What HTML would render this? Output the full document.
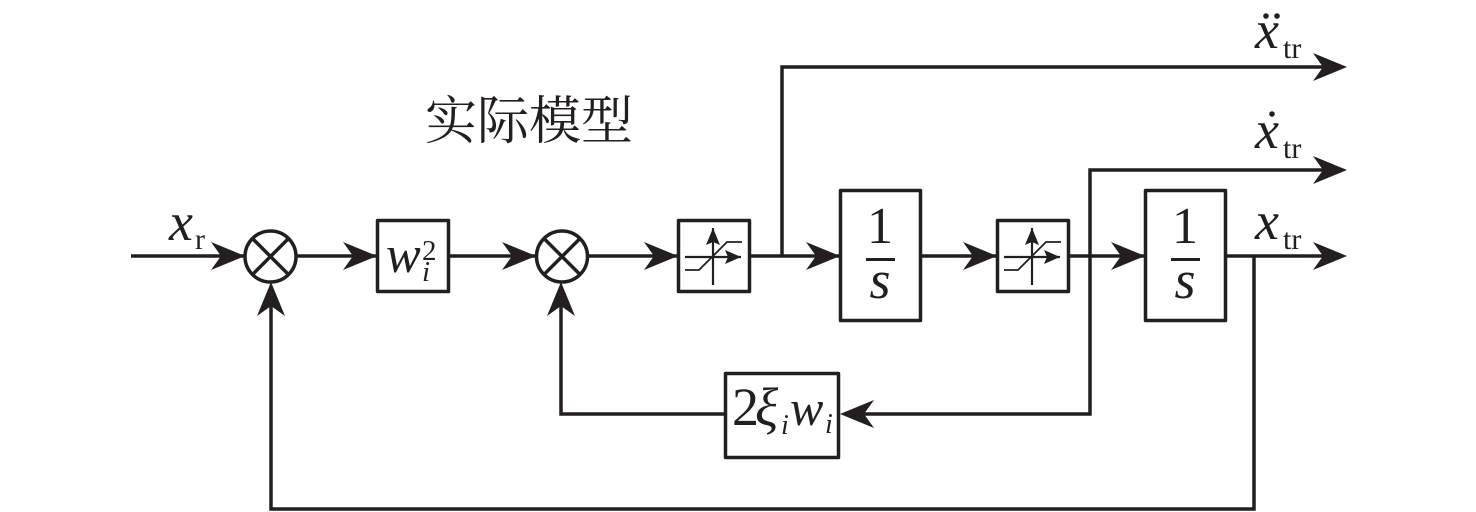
<!DOCTYPE html>
<html>
<head>
<meta charset="utf-8">
<style>
html,body{margin:0;padding:0;background:#fff;width:1476px;height:512px;overflow:hidden}
svg{display:block}
text{fill:#231f20;font-family:"Liberation Serif","Noto Serif CJK SC",serif}
.i{font-style:italic}
</style>
</head>
<body>
<svg width="1476" height="512" viewBox="0 0 1476 512" xmlns="http://www.w3.org/2000/svg">
<defs>
<path id="a" d="M0 0 L-34 -14 L-24 0 L-34 14 Z" fill="#231f20"/>
<g id="sat">
<rect x="-35.500" y="-35.500" width="71" height="71" fill="#fff" stroke="#231f20" stroke-width="3.500" stroke-linejoin="round"/>
<path d="M-29 1 H27 M-1 -28 V29" stroke="#231f20" stroke-width="2.200" fill="none"/>
<path d="M-29 14 H-15 L13 -14 H28" stroke="#231f20" stroke-width="1.800" fill="none"/>
<path d="M-1 -28 L-8 -11 L-1 -14 L6 -11 Z" fill="#231f20"/>
<path d="M27 1 L11 -6 L14 1 L11 8 Z" fill="#231f20"/>
</g>
</defs>
<g stroke="#231f20" stroke-width="3.500" fill="none">
<path d="M131 256 H245 M297 256 H377 M449 256 H535 M588 256 H678 M750 256 H840 M920 256 H997 M1069 256 H1145 M1225 256 H1330"/>
<path d="M782 256 V67 H1330"/>
<path d="M1090 256 V170 H1330 M1090 256 V414 H860"/>
<path d="M725 414 H561 V300"/>
<path d="M1254 256 V509 H271 V300"/>
<circle cx="270.500" cy="256.500" r="25.500"/>
<path d="M252.500 238.500 L288.500 274.500 M288.500 238.500 L252.500 274.500"/>
<circle cx="562" cy="256.500" r="25.500"/>
<path d="M544 238.500 L580 274.500 M580 238.500 L544 274.500"/>
<g stroke-linejoin="round">
<rect x="377.500" y="220.500" width="71" height="71"/>
<rect x="840.500" y="190.500" width="80" height="130"/>
<rect x="1145.500" y="190.500" width="80" height="130"/>
<rect x="725.500" y="373.500" width="113" height="84"/>
</g>
<path d="M866 259.500 H895 M1171 259.500 H1200" stroke-width="3"/>
</g>
<use href="#sat" x="714" y="256"/>
<use href="#sat" x="1033" y="256"/>
<use href="#a" transform="translate(245,256)"/>
<use href="#a" transform="translate(377,256)"/>
<use href="#a" transform="translate(536,256)"/>
<use href="#a" transform="translate(678,256)"/>
<use href="#a" transform="translate(840,256)"/>
<use href="#a" transform="translate(997,256)"/>
<use href="#a" transform="translate(1145,256)"/>
<use href="#a" transform="translate(1347,256)"/>
<use href="#a" transform="translate(1347,170)"/>
<use href="#a" transform="translate(1347,67)"/>
<use href="#a" transform="translate(840,414) rotate(180)"/>
<use href="#a" transform="translate(561,282) rotate(-90)"/>
<use href="#a" transform="translate(271,282) rotate(-90)"/>

<text x="425" y="139" font-size="52" style='font-family:"Noto Serif CJK SC",serif' textLength="208" lengthAdjust="spacingAndGlyphs">实际模型</text>

<text class="i" x="169" y="240" font-size="54">x</text>
<text x="195" y="249" font-size="30">r</text>

<text class="i" x="386" y="272" font-size="52">w</text>
<text x="422" y="260" font-size="29">2</text>
<text class="i" x="422" y="281" font-size="29">i</text>

<text x="880" y="243" font-size="52" text-anchor="middle">1</text>
<text class="i" x="880" y="298" font-size="54" text-anchor="middle">s</text>
<text x="1185" y="243" font-size="52" text-anchor="middle">1</text>
<text class="i" x="1185" y="298" font-size="54" text-anchor="middle">s</text>

<text x="732" y="425" font-size="54">2</text>
<text class="i" x="755" y="425" font-size="54">ξ</text>
<text class="i" x="781" y="434" font-size="28">i</text>
<text class="i" x="790" y="425" font-size="50">w</text>
<text class="i" x="825" y="433" font-size="28">i</text>

<text class="i" x="1255" y="48" font-size="54">x</text>
<text x="1283" y="58" font-size="30">tr</text>
<circle cx="1266" cy="16" r="2.800" fill="#231f20"/>
<circle cx="1277" cy="16" r="2.800" fill="#231f20"/>

<text class="i" x="1255" y="148" font-size="54">x</text>
<text x="1283" y="158" font-size="30">tr</text>
<circle cx="1272" cy="114" r="2.800" fill="#231f20"/>

<text class="i" x="1255" y="239" font-size="54">x</text>
<text x="1283" y="249" font-size="30">tr</text>
</svg>
</body>
</html>
